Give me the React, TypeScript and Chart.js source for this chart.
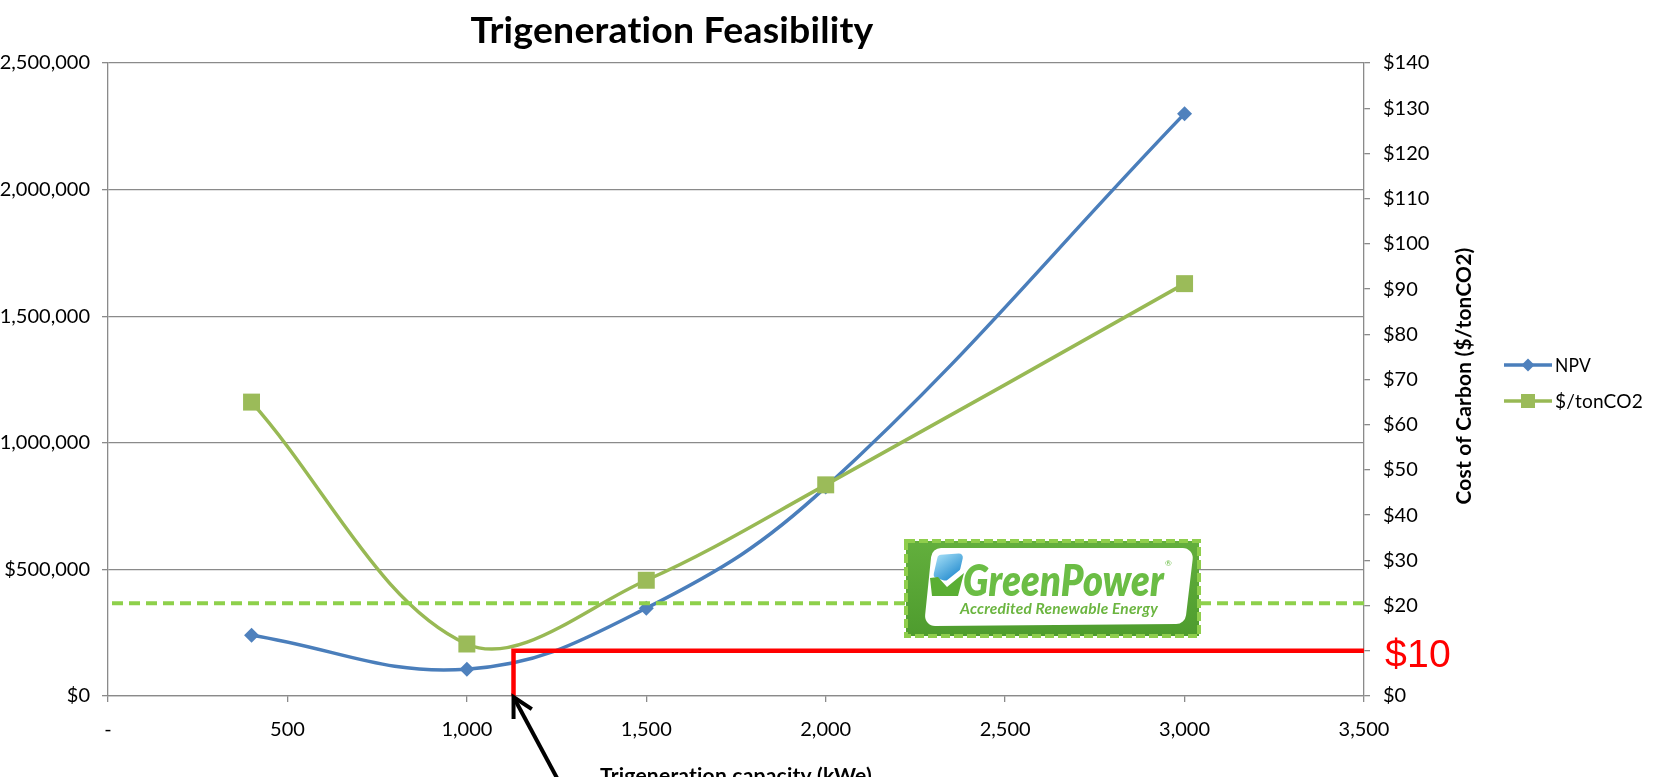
import React, { useEffect, useRef } from "react";
import { Chart, registerables } from "chart.js";

Chart.register(...registerables);

// Trigeneration plant sizes studied (kWe) and the two results for each
const capacityKWe = [400, 1000, 1500, 2000, 3000];
const npvDollars = [240000, 106000, 347000, 825000, 2300000];
const carbonCostPerTon = [65, 11.5, 25.6, 46.7, 91.2];

// Axis ranges and tick steps
const capacityRange = [0, 3500];
const capacityStep = 500;
const npvRange = [0, 2500000];
const npvStep = 500000;
const carbonRange = [0, 140];
const carbonStep = 10;

// Reference levels drawn over the plot
const greenPowerPremium = 20.5; // $/tonCO2, dashed line
const carbonTarget = 10; // $/tonCO2, red bracket
const targetCapacity = 1130; // kWe where the red bracket starts
const targetLabel = "$10";

const chartTitle = "Trigeneration Feasibility";
const xAxisTitle = "Trigeneration capacity (kWe)";
const rightAxisTitle = "Cost of Carbon ($/tonCO2)";
const seriesNames = ["NPV", "$/tonCO2"];

const FONT = "Lato, 'Open Sans', 'DejaVu Sans', sans-serif";
const GRID = "#8A8A8A";

function fitText(
  ctx: CanvasRenderingContext2D,
  text: string,
  x: number,
  y: number,
  width: number,
  font: string,
  color: string,
  align: CanvasTextAlign = "left",
  baseline: CanvasTextBaseline = "alphabetic"
) {
  ctx.save();
  ctx.font = font;
  // a tiny letter spacing keeps plain glyphs (no "ti" ligature)
  (ctx as any).letterSpacing = "0.2px";
  const w = ctx.measureText(text).width;
  ctx.translate(x, y);
  ctx.scale(width / w, 1);
  ctx.textAlign = align;
  ctx.textBaseline = baseline;
  ctx.fillStyle = color;
  ctx.fillText(text, 0, 0);
  ctx.restore();
}

function roundedPoly(ctx: CanvasRenderingContext2D, pts: number[][], r: number) {
  ctx.beginPath();
  const n = pts.length;
  const start = [(pts[n - 1][0] + pts[0][0]) / 2, (pts[n - 1][1] + pts[0][1]) / 2];
  ctx.moveTo(start[0], start[1]);
  for (let i = 0; i < n; i++) {
    const p = pts[i];
    const q = pts[(i + 1) % n];
    ctx.arcTo(p[0], p[1], q[0], q[1], r);
  }
  ctx.closePath();
}

// GreenPower badge, placed relative to the plot area
function drawBadge(ctx: CanvasRenderingContext2D, L: number, T: number) {
  const W = 295;
  const H = 97;
  ctx.save();
  const bg = ctx.createLinearGradient(0, T, 0, T + H);
  bg.addColorStop(0, "#63AF3D");
  bg.addColorStop(1, "#4E9C2E");
  ctx.fillStyle = bg;
  ctx.fillRect(L + 1, T + 1, W - 2, H - 2);

  roundedPoly(
    ctx,
    [
      [L + 27, T + 8],
      [L + 289, T + 8],
      [L + 280, T + 84],
      [L + 19, T + 86],
    ],
    10
  );
  ctx.fillStyle = "#FFFFFF";
  ctx.fill();

  ctx.setLineDash([9, 4]);
  ctx.strokeStyle = "#8FCE4C";
  ctx.lineWidth = 4;
  ctx.strokeRect(L + 1, T + 1, W - 2, H - 2);
  ctx.setLineDash([]);

  // leaf icon
  const blue = ctx.createLinearGradient(L + 30, T + 14, L + 50, T + 42);
  blue.addColorStop(0, "#A9E2F8");
  blue.addColorStop(1, "#1C86CC");
  roundedPoly(
    ctx,
    [
      [L + 33, T + 15],
      [L + 59, T + 13],
      [L + 55, T + 30],
      [L + 41, T + 41],
      [L + 28, T + 37],
    ],
    4
  );
  ctx.fillStyle = blue;
  ctx.fill();
  ctx.beginPath();
  ctx.moveTo(L + 25, T + 38);
  ctx.lineTo(L + 33, T + 37);
  ctx.lineTo(L + 42, T + 47);
  ctx.lineTo(L + 59, T + 33);
  ctx.lineTo(L + 53, T + 56);
  ctx.lineTo(L + 27, T + 56);
  ctx.closePath();
  ctx.fillStyle = "#5AAE33";
  ctx.fill();

  fitText(ctx, "GreenPower", L + 58, T + 56, 201, `italic 800 44px ${FONT}`, "#6BBD45");
  fitText(ctx, "®", L + 260, T + 26, 7, `8px ${FONT}`, "#6BBD45");
  fitText(ctx, "Accredited Renewable Energy", L + 55, T + 74, 198, `italic bold 15px ${FONT}`, "#6BB540");
  ctx.restore();
}

const overlay = {
  id: "overlay",
  afterDatasetsDraw(chart: any) {
    const { ctx, chartArea: a, scales } = chart;
    const xs = scales.x;
    const yr = scales.yCarbon;

    // GreenPower premium line
    const yg = yr.getPixelForValue(greenPowerPremium);
    ctx.save();
    ctx.strokeStyle = "#8ED04B";
    ctx.lineWidth = 4;
    ctx.setLineDash([11, 6]);
    ctx.beginPath();
    ctx.moveTo(a.left + 4, yg);
    ctx.lineTo(a.right + 3, yg);
    ctx.stroke();
    ctx.restore();

    drawBadge(ctx, a.left + 797, a.top + 477);

    // $10 bracket
    const yt = yr.getPixelForValue(carbonTarget);
    const xt = xs.getPixelForValue(targetCapacity);
    ctx.save();
    ctx.strokeStyle = "#FF0000";
    ctx.lineWidth = 4.5;
    ctx.lineJoin = "miter";
    ctx.beginPath();
    ctx.moveTo(xt, a.bottom);
    ctx.lineTo(xt, yt);
    ctx.lineTo(a.right, yt);
    ctx.stroke();
    ctx.restore();
  },
  afterDraw(chart: any) {
    const { ctx, chartArea: a, scales } = chart;
    const xs = scales.x;
    const yr = scales.yCarbon;

    fitText(ctx, chartTitle, 672, 43, 403, `bold 36px ${FONT}`, "#000", "center");
    fitText(ctx, xAxisTitle, (a.left + a.right) / 2, 783, 272, `bold 20px ${FONT}`, "#000", "center");

    ctx.save();
    ctx.translate(1465, 376);
    ctx.rotate(-Math.PI / 2);
    fitText(ctx, rightAxisTitle, 0, 0, 257, `bold 20px ${FONT}`, "#000", "center", "middle");
    ctx.restore();

    // $10 label beside the bracket
    const yt = yr.getPixelForValue(carbonTarget);
    fitText(ctx, targetLabel, a.right + 21, yt + 16, 66, `39px 'Liberation Sans', Arial, sans-serif`, "#FF0000");

    // legend
    const rows = [365, 401];
    const widths = [36, 88];
    chart.data.datasets.forEach((ds: any, i: number) => {
      const y = rows[i];
      ctx.save();
      ctx.strokeStyle = ds.borderColor;
      ctx.lineWidth = 3.5;
      ctx.beginPath();
      ctx.moveTo(1504, y);
      ctx.lineTo(1552, y);
      ctx.stroke();
      ctx.fillStyle = ds.pointBackgroundColor;
      ctx.beginPath();
      if (ds.pointStyle === "rectRot") {
        ctx.moveTo(1528, y - 6.5);
        ctx.lineTo(1534.5, y);
        ctx.lineTo(1528, y + 6.5);
        ctx.lineTo(1521.5, y);
        ctx.closePath();
      } else {
        ctx.rect(1521, y - 7, 14, 14);
      }
      ctx.fill();
      ctx.restore();
      fitText(ctx, ds.label, 1555, y + 1, widths[i], `20px ${FONT}`, "#000", "left", "middle");
    });

    // arrow pointing at the bracket corner on the axis
    const tipX = xs.getPixelForValue(targetCapacity);
    const tipY = a.bottom + 1;
    const ang = Math.atan2(0.881, 0.473);
    ctx.save();
    ctx.strokeStyle = "#000";
    ctx.lineWidth = 4;
    ctx.lineJoin = "miter";
    ctx.beginPath();
    ctx.moveTo(tipX + 2 * Math.cos(ang), tipY + 2 * Math.sin(ang));
    ctx.lineTo(tipX + 120 * Math.cos(ang), tipY + 120 * Math.sin(ang));
    ctx.stroke();
    const len = 22;
    const spread = 0.49;
    ctx.beginPath();
    ctx.moveTo(tipX + len * Math.cos(ang - spread), tipY + len * Math.sin(ang - spread));
    ctx.lineTo(tipX, tipY);
    ctx.lineTo(tipX + len * Math.cos(ang + spread), tipY + len * Math.sin(ang + spread));
    ctx.stroke();
    ctx.restore();
  },
};

export default function App() {
  const ref = useRef<HTMLCanvasElement | null>(null);

  useEffect(() => {
    if (!ref.current) return;
    const tickFont = { family: FONT, size: 20 };
    const chart = new Chart(ref.current, {
      type: "line",
      data: {
        datasets: [
          {
            label: seriesNames[0],
            data: capacityKWe.map((x, i) => ({ x, y: npvDollars[i] })),
            yAxisID: "yNpv",
            borderColor: "#4A7EBB",
            backgroundColor: "#4F81BD",
            pointBackgroundColor: "#4F81BD",
            pointBorderColor: "#4F81BD",
            pointStyle: "rectRot",
            pointRadius: 7.5,
            pointBorderWidth: 0,
            borderWidth: 3.5,
            tension: 0.4,
            fill: false,
            order: 1,
          },
          {
            label: seriesNames[1],
            data: capacityKWe.map((x, i) => ({ x, y: carbonCostPerTon[i] })),
            yAxisID: "yCarbon",
            borderColor: "#98B954",
            backgroundColor: "#9BBB59",
            pointBackgroundColor: "#9BBB59",
            pointBorderColor: "#9BBB59",
            pointStyle: "rect",
            pointRadius: 12,
            pointBorderWidth: 0,
            borderWidth: 3.5,
            tension: 0.35,
            fill: false,
            order: 0,
          },
        ],
      },
      options: {
        responsive: false,
        animation: false,
        events: [],
        layout: { padding: { top: 63, left: 0, right: 0, bottom: 0 } },
        plugins: {
          legend: { display: false },
          title: { display: false },
          tooltip: { enabled: false },
        },
        scales: {
          x: {
            type: "linear",
            min: capacityRange[0],
            max: capacityRange[1],
            ticks: {
              stepSize: capacityStep,
              autoSkip: false,
              maxRotation: 0,
              padding: 16,
              color: "#000",
              font: tickFont,
              callback: (v: any) => (Number(v) === 0 ? "-" : Number(v).toLocaleString("en-US")),
            },
            grid: { drawOnChartArea: false, tickLength: 6, color: GRID, lineWidth: 1.3 },
            border: { color: GRID, width: 1.3 },
            afterFit: (s: any) => {
              s.height = 81;
            },
          },
          yNpv: {
            type: "linear",
            position: "left",
            min: npvRange[0],
            max: npvRange[1],
            ticks: {
              stepSize: npvStep,
              padding: 12,
              color: "#000",
              font: tickFont,
              callback: (v: any) => "$" + Number(v).toLocaleString("en-US"),
            },
            grid: { color: GRID, lineWidth: 1.3, tickLength: 6 },
            border: { color: GRID, width: 1.3 },
            afterFit: (s: any) => {
              s.width = 108;
            },
          },
          yCarbon: {
            type: "linear",
            position: "right",
            min: carbonRange[0],
            max: carbonRange[1],
            ticks: {
              stepSize: carbonStep,
              padding: 13,
              color: "#000",
              font: tickFont,
              // the $10 level carries the red label instead
              callback: (v: any) => (Number(v) === carbonTarget ? "" : "$" + v),
            },
            grid: { drawOnChartArea: false, tickLength: 6, color: GRID, lineWidth: 1.3 },
            border: { color: GRID, width: 1.3 },
            afterFit: (s: any) => {
              s.width = 291;
            },
          },
        },
      },
      plugins: [overlay],
    } as any);
    return () => chart.destroy();
  }, []);

  return (
    <div style={{ position: "absolute", left: 0, top: 0, width: 1655, height: 777, background: "#fff" }}>
      <canvas ref={ref} width={1655} height={777} />
    </div>
  );
}
